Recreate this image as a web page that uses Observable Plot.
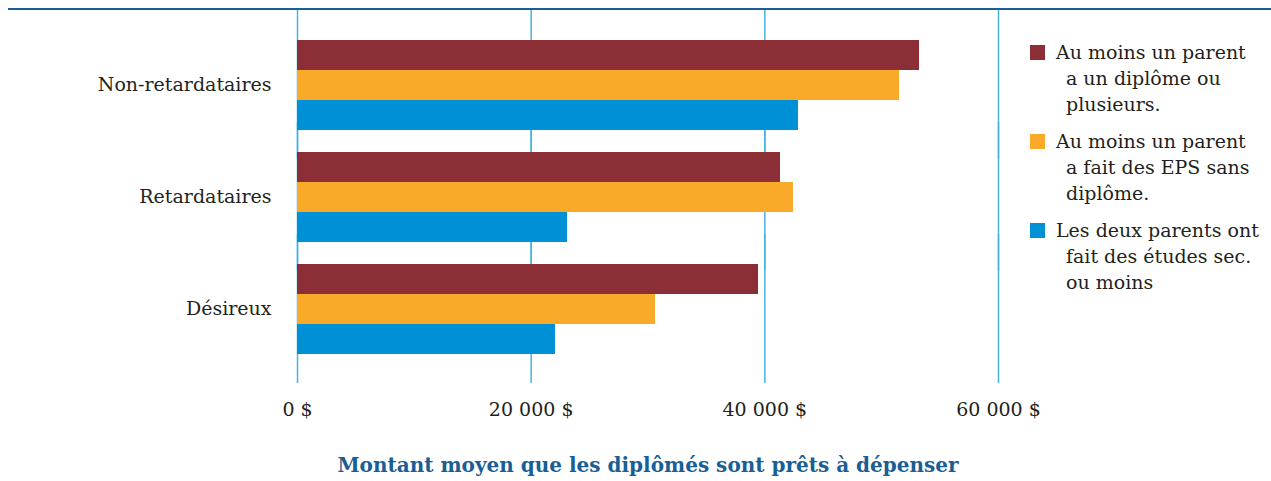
<!DOCTYPE html>
<html><head><meta charset="utf-8">
<script src="https://cdn.jsdelivr.net/npm/d3@7"></script>
<script src="https://cdn.jsdelivr.net/npm/@observablehq/plot@0.6"></script>
<style>
body{margin:0;background:#fff;}
#wrap{position:relative;width:1271px;height:481px;font-family:"DejaVu Serif",serif;color:#231f20;overflow:hidden;}
#topline{position:absolute;left:8px;right:0;top:8px;height:0;border-top:2.5px solid #1b5e96;z-index:2;}
#legend{position:absolute;left:1030px;top:39px;font-size:19px;line-height:26px;}
.item{position:relative;padding-left:26px;margin-bottom:11px;white-space:nowrap;}
.sw{position:absolute;left:0;top:6px;width:15px;height:15px;}
.cont{padding-left:10px;}
svg g[aria-label="x-axis label"] text{font-weight:bold;fill:#1a5e96;font-size:20px;}
</style></head>
<body>
<div id="wrap"><div id="topline"></div><div id="legend"></div></div>
<script>
const categories = ["Non-retardataires", "Retardataires", "Désireux"];
const seriesLines = [
  ["Au moins un parent", "a un diplôme ou", "plusieurs."],
  ["Au moins un parent", "a fait des EPS sans", "diplôme."],
  ["Les deux parents ont", "fait des études sec.", "ou moins"]
];
const series = seriesLines.map(l => l.join(" "));
const colors = ["#8c2e35", "#f9aa28", "#0090d6"];
const parentDiplome = [53240, 41340, 39460];
const parentEpsSansDiplome = [51530, 42450, 30640];
const deuxParentsSec = [42880, 23110, 22080];
const xTicks = [0, 20000, 40000, 60000];
const xTickLabels = ["0 $", "20 000 $", "40 000 $", "60 000 $"];
const axisTitle = "Montant moyen que les diplômés sont prêts à dépenser";

const seriesValues = [parentDiplome, parentEpsSansDiplome, deuxParentsSec];
const rows = categories.flatMap((c, i) => seriesValues.map((arr, j) => ({category: c, series: series[j], value: arr[i]})));

const chart = Plot.plot({
  width: 1271, height: 481,
  marginLeft: 297, marginRight: 273, marginTop: 10, marginBottom: 97,
  style: {fontFamily: "DejaVu Serif", fontSize: "19px", color: "#231f20", background: "transparent"},
  x: {domain: [0, 60000], axis: null},
  y: {domain: series, axis: null, padding: 0},
  fy: {domain: categories, paddingInner: 0.186, paddingOuter: 0.25, axis: null, label: null},
  color: {domain: series, range: colors},
  marks: [
    Plot.ruleX(xTicks, {stroke: "#47b4e0", strokeWidth: 1.5, insetTop: -29, insetBottom: -29}),
    Plot.barX(rows, {fy: "category", y: "series", x: "value", fill: "series"}),
    Plot.axisFy({anchor: "left", tickSize: 0, tickPadding: 26, label: null}),
    Plot.axisX({ticks: xTicks, tickFormat: (d) => xTickLabels[xTicks.indexOf(d)], tickSize: 0, tickPadding: 48,
      label: axisTitle, labelAnchor: "center", labelOffset: 117, labelArrow: "none"})
  ]
});
document.getElementById("wrap").appendChild(chart);

const legend = document.getElementById("legend");
seriesLines.forEach((lines, i) => {
  const item = document.createElement("div");
  item.className = "item";
  item.innerHTML = `<span class="sw" style="background:${colors[i]}"></span>` +
    lines.map((t, k) => `<div class="${k ? "cont" : ""}">${t}</div>`).join("");
  legend.appendChild(item);
});
</script>
</body></html>
